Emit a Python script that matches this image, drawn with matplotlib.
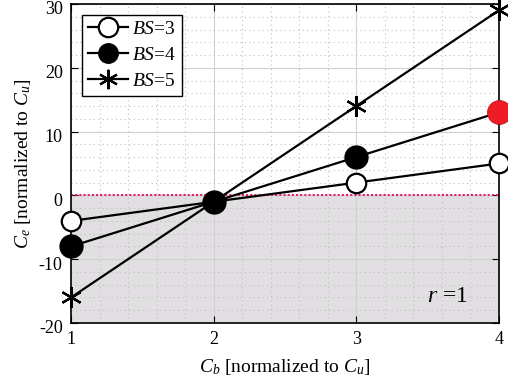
import matplotlib.pyplot as plt
import matplotlib.transforms as mtransforms
import numpy as np
from matplotlib.ticker import MultipleLocator

plt.rcParams['font.family'] = ['Liberation Serif', 'DejaVu Serif']
plt.rcParams['mathtext.fontset'] = 'custom'
plt.rcParams['mathtext.rm'] = 'Liberation Serif'
plt.rcParams['mathtext.it'] = 'Liberation Serif:italic'
plt.rcParams['axes.unicode_minus'] = False

cb = [1, 2, 3, 4]
ce_bs3 = [-4, -1, 2, 5]
ce_bs4 = [-8, -1, 6, 13]
ce_bs5 = [-16, -1, 14, 29]
labels = ["$BS$=3", "$BS$=4", "$BS$=5"]

fig = plt.figure(figsize=(5.08, 3.87), dpi=100)
ax = fig.add_axes([0.1398, 0.1654, 0.8422, 0.8243])

ax.axhspan(-20, 0, color='#e1dfe1', zorder=0)
ax.grid(True, which='major', color='#d0d0d0', lw=0.8, zorder=1)
ax.grid(True, which='minor', color='#c0c0c0', ls=(0, (1, 3)), lw=0.8, zorder=1)
ax.axhline(0, color='#e0206a', ls=(0, (1, 1)), lw=1.5, zorder=2)

ax.plot(cb, ce_bs3, '-o', color='k', lw=1.6, ms=14, mfc='white', mew=1.6,
        label=labels[0], zorder=3, clip_on=False)
ax.plot(cb, ce_bs4, '-o', color='k', lw=1.6, ms=16.5, mfc='k',
        label=labels[1], zorder=3, clip_on=False)
ax.plot(cb, ce_bs5, '-', color='k', lw=1.6, marker=(6, 2, 0), ms=15, mew=1.6,
        label=labels[2], zorder=3, clip_on=False)
# highlighted point
ax.plot(cb[-1], ce_bs4[-1], 'o', color='#ee1c25', ms=16.5, zorder=4, clip_on=False)

ax.set_xlim(1, 4)
ax.set_ylim(-20, 30)
ax.set_xticks([1, 2, 3, 4])
ax.set_yticks([-20, -10, 0, 10, 20, 30])
ax.xaxis.set_minor_locator(MultipleLocator(0.2))
ax.yaxis.set_minor_locator(MultipleLocator(2))
ax.tick_params(which='major', direction='in', top=True, right=True, length=5,
               labelsize=13, pad=6)
ax.tick_params(which='minor', length=0)
for s in ax.spines.values():
    s.set_linewidth(1.2)

# y tick labels sit a little below their ticks, as in the original
shift = mtransforms.ScaledTranslation(0, -4 / 100, fig.dpi_scale_trans)
for lbl in ax.get_yticklabels():
    lbl.set_transform(lbl.get_transform() + shift)

ax.set_xlabel("$C_b$ [normalized to $C_u$]", fontsize=14, labelpad=6)
ax.set_ylabel("$C_e$ [normalized to $C_u$]", fontsize=14, labelpad=4)
ax.text(3.495, -15.8, "$r$ =1", fontsize=17, va='center')

leg = ax.legend(loc='upper left', fontsize=14, fancybox=False, framealpha=1,
                edgecolor='k', handlelength=2.1, borderpad=0.3,
                labelspacing=0.42, handletextpad=0.2, borderaxespad=0.55)
leg.get_frame().set_linewidth(1.0)
for h in leg.legend_handles:
    h.set_markersize(14)

fig.savefig("out.png", dpi=100)
